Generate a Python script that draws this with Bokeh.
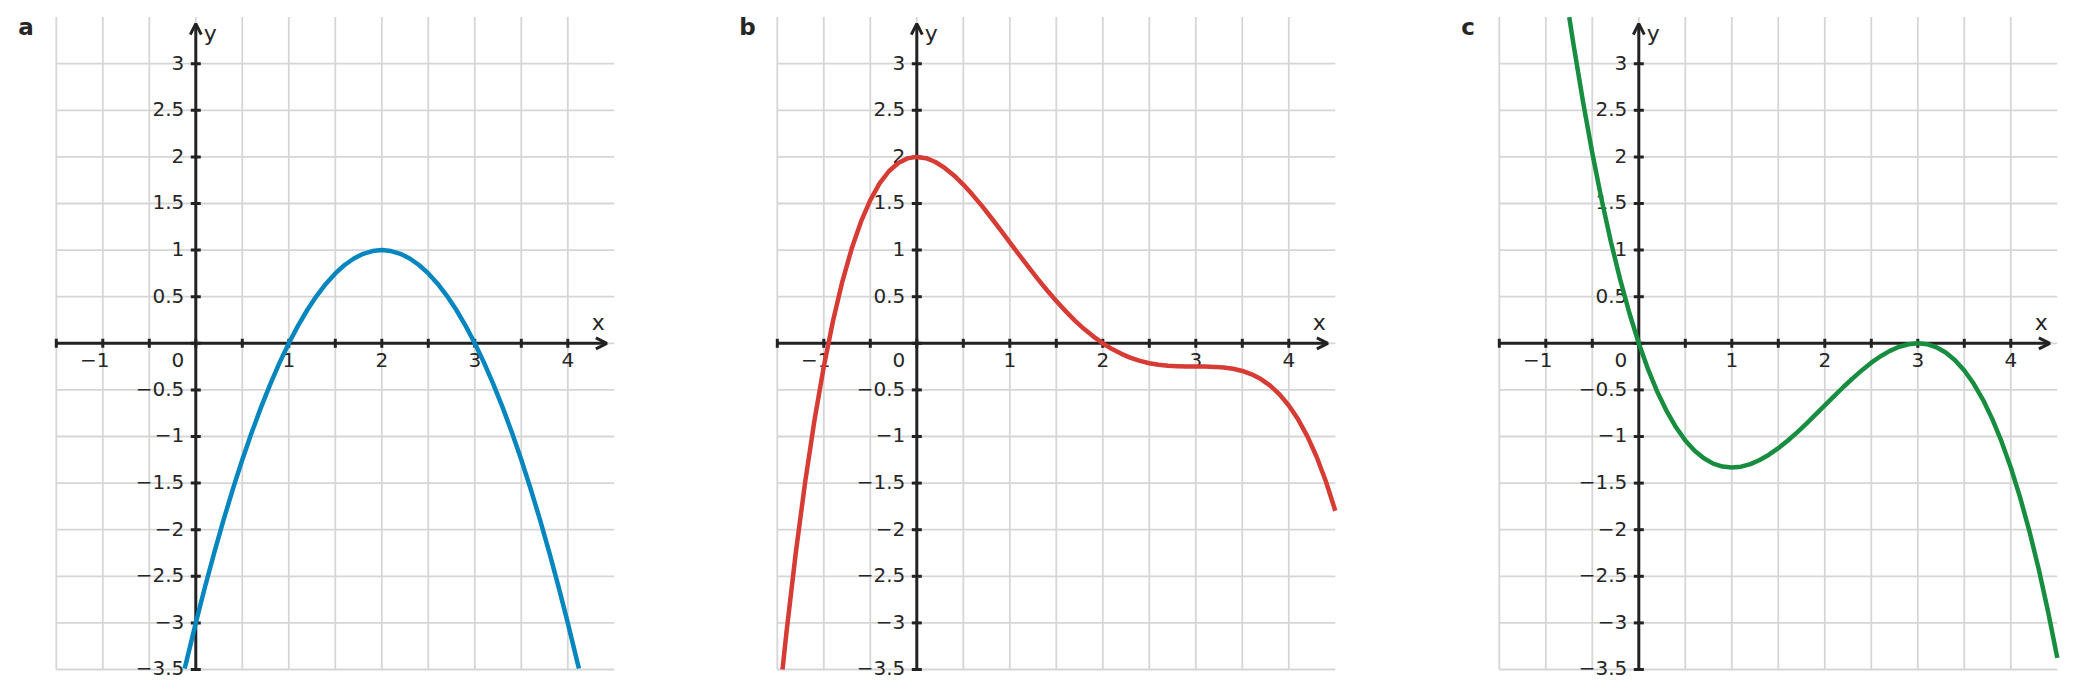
import math
from bokeh.plotting import figure
from bokeh.layouts import row
from bokeh.models import Range1d, Arrow, OpenHead
from bokeh.embed import file_html
from bokeh.resources import INLINE
from bokeh.core.properties import value

# ---------------- data ----------------
PANEL_LETTERS = ["a", "b", "c"]
CURVE_COLORS = ["#0586bf", "#d63b34", "#178d3f"]

X_MIN, X_MAX = -1.5, 4.5
Y_MIN, Y_MAX = -3.5, 3.5
GRID_X = [-1.5, -1.0, -0.5, 0.0, 0.5, 1.0, 1.5, 2.0, 2.5, 3.0, 3.5, 4.0]
GRID_Y = [-3.5, -3.0, -2.5, -2.0, -1.5, -1.0, -0.5, 0.0, 0.5, 1.0, 1.5, 2.0, 2.5, 3.0]
X_TICK_VALUES = [-1, 0, 1, 2, 3, 4]
X_TICK_LABELS = ["−1", "0", "1", "2", "3", "4"]
Y_TICK_VALUES = [-3.5, -3, -2.5, -2, -1.5, -1, -0.5, 0.5, 1, 1.5, 2, 2.5, 3]
Y_TICK_LABELS = ["−3.5", "−3", "−2.5", "−2", "−1.5", "−1", "−0.5",
                 "0.5", "1", "1.5", "2", "2.5", "3"]
X_AXIS_END = 4.42
Y_AXIS_END = 3.43
X_AXIS_NAME = "x"
Y_AXIS_NAME = "y"

# panel a (blue parabola)
A_X = [-0.12, -0.1, 0.0, 0.1, 0.2, 0.3, 0.4, 0.5, 0.6, 0.7, 0.8, 0.9, 1.0, 1.1, 1.2, 1.3,
       1.4, 1.5, 1.6, 1.7, 1.8, 1.9, 2.0, 2.1, 2.2, 2.3, 2.4, 2.5, 2.6, 2.7, 2.8, 2.9,
       3.0, 3.1, 3.2, 3.3, 3.4, 3.5, 3.6, 3.7, 3.8, 3.9, 4.0, 4.1, 4.12]
A_Y = [-3.49, -3.41, -3.0, -2.61, -2.24, -1.89, -1.56, -1.25, -0.96, -0.69, -0.44, -0.21, 0.0,
       0.19, 0.36, 0.51, 0.64, 0.75, 0.84, 0.91, 0.96, 0.99, 1.0, 0.99, 0.96, 0.91, 0.84,
       0.75, 0.64, 0.51, 0.36, 0.19, 0.0, -0.21, -0.44, -0.69, -0.96, -1.25, -1.56, -1.89,
       -2.24, -2.61, -3.0, -3.41, -3.49]

# panel b (red quartic)
B_X = [-1.444, -1.4, -1.3, -1.2, -1.1, -1.0, -0.9, -0.8, -0.7, -0.6, -0.5, -0.4, -0.3, -0.2,
       -0.1, 0.0, 0.1, 0.2, 0.3, 0.4, 0.5, 0.6, 0.7, 0.8, 0.9, 1.0, 1.1, 1.2, 1.3, 1.4,
       1.5, 1.6, 1.7, 1.8, 1.9, 2.0, 2.1, 2.2, 2.3, 2.4, 2.5, 2.6, 2.7, 2.8, 2.9, 3.0,
       3.1, 3.2, 3.3, 3.4, 3.5, 3.6, 3.7, 3.8, 3.9, 4.0, 4.1, 4.2, 4.3, 4.4, 4.5]
B_Y = [-3.5, -3.089, -2.238, -1.485, -0.824, -0.25, 0.244, 0.665, 1.016, 1.305, 1.536,
       1.715, 1.846, 1.935, 1.984, 2.0, 1.986, 1.945, 1.882, 1.801, 1.703, 1.593, 1.474,
       1.347, 1.216, 1.083, 0.950, 0.819, 0.692, 0.569, 0.453, 0.345, 0.244, 0.153,
       0.072, 0.0, -0.062, -0.113, -0.156, -0.189, -0.214, -0.231, -0.242, -0.247,
       -0.250, -0.25, -0.250, -0.253, -0.260, -0.273, -0.297, -0.333, -0.384, -0.455,
       -0.548, -0.667, -0.816, -0.999, -1.220, -1.485, -1.797]

# panel c (green cubic)
C_X = [-0.748, -0.7, -0.6, -0.5, -0.4, -0.3, -0.2, -0.1, 0.0, 0.1, 0.2, 0.3, 0.4, 0.5,
       0.6, 0.7, 0.8, 0.9, 1.0, 1.1, 1.2, 1.3, 1.4, 1.5, 1.6, 1.7, 1.8, 1.9, 2.0, 2.1,
       2.2, 2.3, 2.4, 2.5, 2.6, 2.7, 2.8, 2.9, 3.0, 3.1, 3.2, 3.3, 3.4, 3.5, 3.6, 3.7,
       3.8, 3.9, 4.0, 4.1, 4.2, 4.3, 4.4, 4.5]
C_Y = [3.5, 3.194, 2.592, 2.042, 1.541, 1.089, 0.683, 0.320, 0.0, -0.280, -0.523, -0.729,
       -0.901, -1.042, -1.152, -1.234, -1.291, -1.323, -1.333, -1.324, -1.296, -1.252,
       -1.195, -1.125, -1.045, -0.958, -0.864, -0.766, -0.667, -0.567, -0.469, -0.376,
       -0.288, -0.208, -0.139, -0.081, -0.037, -0.010, 0.0, -0.010, -0.043, -0.099,
       -0.181, -0.292, -0.432, -0.604, -0.811, -1.053, -1.333, -1.654, -2.016, -2.422,
       -2.875, -3.375]

CURVES = [(A_X, A_Y), (B_X, B_Y), (C_X, C_Y)]

# ---------------- styling / layout ----------------
FONT = "DejaVu Sans"
TEXT_COLOR = "#262626"
AXIS_COLOR = "#222222"
GRID_COLOR = "#d6d6d6"
PX_X = 93.0       # pixels per unit in x
PX_Y = 93.2       # pixels per unit in y
ORIGIN_X_PX = 195.3   # from figure left edge
ORIGIN_Y_PX = 342.8   # from figure top edge
HEIGHT = 688
WIDTHS = [721, 722, 625]
TICK_FONT = "20px"
NAME_FONT = "22px"
LETTER_FONT = "23px"


def make_panel(letter, xs, ys, color, width):
    x_start = -ORIGIN_X_PX / PX_X
    y_end = ORIGIN_Y_PX / PX_Y
    p = figure(width=width, height=HEIGHT, output_backend="svg", toolbar_location=None,
               x_range=Range1d(x_start, x_start + width / PX_X),
               y_range=Range1d(y_end - HEIGHT / PX_Y, y_end),
               x_axis_type=None, y_axis_type=None, min_border=0,
               outline_line_color=None, background_fill_color="white",
               border_fill_color="white")
    p.xgrid.visible = False
    p.ygrid.visible = False

    nx, ny = len(GRID_X), len(GRID_Y)
    # grid
    p.segment(x0=GRID_X, y0=[Y_MIN] * nx, x1=GRID_X, y1=[Y_MAX] * nx,
              line_color=GRID_COLOR, line_width=1.8, level="image")
    p.segment(x0=[X_MIN] * ny, y0=GRID_Y, x1=[X_MAX] * ny, y1=GRID_Y,
              line_color=GRID_COLOR, line_width=1.8, level="image")

    # axes with arrows
    p.add_layout(Arrow(end=OpenHead(size=11, line_width=3, line_color=AXIS_COLOR),
                       x_start=X_MIN, y_start=0, x_end=X_AXIS_END, y_end=0,
                       line_width=3, line_color=AXIS_COLOR, level="underlay"))
    p.add_layout(Arrow(end=OpenHead(size=11, line_width=3, line_color=AXIS_COLOR),
                       x_start=0, y_start=Y_MIN, x_end=0, y_end=Y_AXIS_END,
                       line_width=3, line_color=AXIS_COLOR, level="underlay"))

    # tick marks
    p.scatter(x=GRID_X, y=[0] * nx, marker="dash", angle=math.pi / 2, size=9,
              line_color=AXIS_COLOR, line_width=3, level="underlay")
    p.scatter(x=[0] * ny, y=GRID_Y, marker="dash", size=10,
              line_color=AXIS_COLOR, line_width=3, level="underlay")

    common = dict(text_font=value(FONT), text_color=TEXT_COLOR, text_baseline="middle")
    # x tick labels
    for v, lab in zip(X_TICK_VALUES, X_TICK_LABELS):
        if v == 0:
            p.text(x=[v], y=[0], text=[lab], x_offset=-11.5, y_offset=17,
                   text_align="right", text_font_size=TICK_FONT, **common)
        else:
            off = -8 if lab.startswith("−") else 0
            p.text(x=[v], y=[0], text=[lab], x_offset=off, y_offset=17,
                   text_align="center", text_font_size=TICK_FONT, **common)
    # y tick labels
    p.text(x=[0] * len(Y_TICK_VALUES), y=Y_TICK_VALUES, text=Y_TICK_LABELS,
           x_offset=-11.5, y_offset=-1.2, text_align="right",
           text_font_size=TICK_FONT, **common)

    # axis names
    p.text(x=[X_AXIS_END], y=[0], text=[X_AXIS_NAME], x_offset=-8.5, y_offset=-21,
           text_align="center", text_font_size=NAME_FONT, **common)
    p.text(x=[0], y=[Y_AXIS_END], text=[Y_AXIS_NAME], x_offset=8, y_offset=9.5,
           text_align="left", text_font_size=NAME_FONT, **common)

    # panel letter
    p.text(x=[X_MIN], y=[Y_MAX], text=[letter], x_offset=-38, y_offset=9.5,
           text_align="left", text_font_size=LETTER_FONT,
           text_font_style="bold", **common)

    # curve
    p.line(x=xs, y=ys, line_color=color, line_width=4.5, line_join="round")
    return p


panels = [make_panel(l, cx, cy, c, w)
          for l, (cx, cy), c, w in zip(PANEL_LETTERS, CURVES, CURVE_COLORS, WIDTHS)]
layout = row(*panels, spacing=0)

open("out.html", "w").write(file_html(layout, INLINE))
